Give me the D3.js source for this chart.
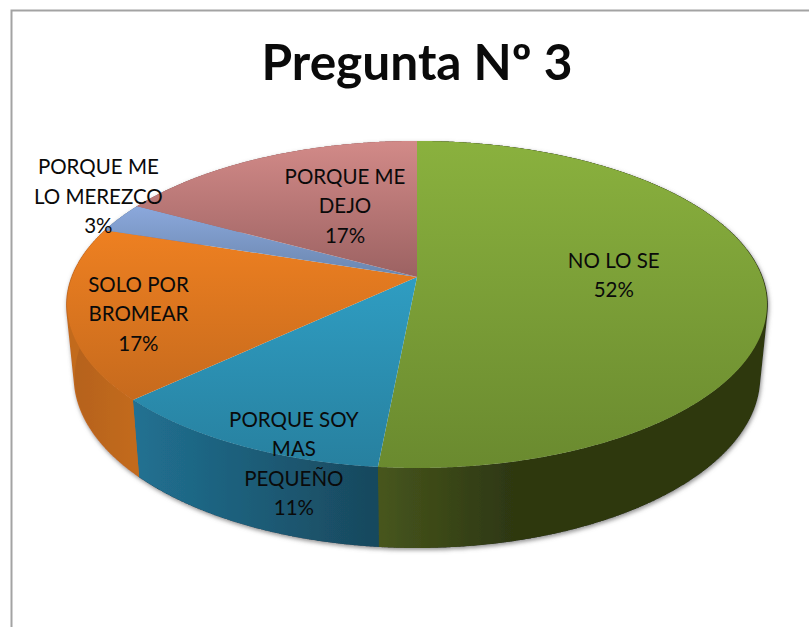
<!DOCTYPE html>
<html>
<head>
<meta charset="utf-8">
<script src="https://cdn.jsdelivr.net/npm/d3@7"></script>
<style>
  html, body { margin: 0; padding: 0; background: #fff; }
  svg { display: block; }
  text { font-family: Lato, "Open Sans", sans-serif; fill: #0a0a0a; }
</style>
</head>
<body>
<div id="my_dataviz"></div>
<script>
var title = "Pregunta Nº 3";
var categories = ["NO LO SE", "PORQUE SOY MAS PEQUEÑO", "SOLO POR BROMEAR", "PORQUE ME LO MEREZCO", "PORQUE ME DEJO"];
// shares, the printed labels round them
var shares = [51.5, 11.49, 17, 3, 17];
var labelLines = [
  ["NO LO SE", "52%"],
  ["PORQUE SOY", "MAS", "PEQUEÑO", "11%"],
  ["SOLO POR", "BROMEAR", "17%"],
  ["PORQUE ME", "LO MEREZCO", "3%"],
  ["PORQUE ME", "DEJO", "17%"]
];

// top face colours, back to front, and wall colours, left to right
var topColors = [["#8ab13e", "#6a8a2f"], ["#2f9dc2", "#27809f"], ["#ee8021", "#c66a1d"], ["#8ba8dc", "#6a86ae"], ["#d28a88", "#9c6262"]];
var wallColors = [["#47561d", "#2d3711"], ["#217192", "#18485d"], ["#b4611a", "#c26a1e"], ["#6a86ae", "#6a86ae"], ["#9c6262", "#9c6262"]];
// label offset from the point at 60% of the radius on each slice's middle
var labelNudge = [[-11, -6], [-23, 93], [-72, 16], [-136, -44], [25, 5]];

var width = 809, height = 627;
var cx = 417, cy = 277, R = 345, tilt = 158.9, persp = 0.168;
var wallHeight = 80, wallShrink = 0.978;

var svg = d3.select("#my_dataviz").append("svg")
  .attr("width", width)
  .attr("height", height);

var defs = svg.append("defs");
var shadow = defs.append("filter").attr("id", "shadow")
  .attr("x", "-5%").attr("y", "-5%").attr("width", "110%").attr("height", "115%");
shadow.append("feDropShadow")
  .attr("dx", 1).attr("dy", 2).attr("stdDeviation", 2)
  .attr("flood-color", "#777").attr("flood-opacity", 0.8);

// chart frame, runs off the right and bottom of the picture
svg.append("path")
  .attr("d", "M11.5," + height + "V10.5H" + width)
  .attr("fill", "none")
  .attr("stroke", "#a3a3a3")
  .attr("stroke-width", 2);

svg.append("text")
  .attr("x", 417)
  .attr("y", 80)
  .attr("text-anchor", "middle")
  .attr("font-size", 49.6)
  .attr("font-weight", 700)
  .text(title);

// disc seen in perspective, angle clockwise from the top
function project(a, r) {
  var u = r * Math.sin(a), v = -r * Math.cos(a), d = 1 - persp * v;
  return [cx + R * u / d, cy + tilt * v / d];
}
function projectBottom(a) {
  var p = project(a, 1);
  return [cx + (p[0] - cx) * wallShrink, p[1] + wallHeight - 0.045 * (468 - p[1])];
}
function sample(a0, a1) {
  var n = Math.max(2, Math.ceil(Math.abs(a1 - a0) / 0.005));
  return d3.range(n + 1).map(function(i) { return a0 + (a1 - a0) * i / n; });
}

var slices = d3.pie().sort(null).startAngle(0).endAngle(2 * Math.PI)(shares);
var line = d3.line();

function topPath(d) {
  var pts = sample(d.startAngle, d.endAngle).map(function(a) { return project(a, 1); });
  return line([[cx, cy]].concat(pts)) + "Z";
}
function wallPath(d) {
  var as = sample(d.startAngle, d.endAngle);
  var upper = as.map(function(a) { return project(a, 1); });
  var lower = as.slice().reverse().map(projectBottom);
  return line(upper.concat(lower)) + "Z";
}
// the straight edges top to bottom, these fill the silhouette at the far left and right
function wallEdges(d) {
  return sample(d.startAngle, d.endAngle).map(function(a) {
    return line([project(a, 1), projectBottom(a)]);
  }).join("");
}

slices.forEach(function(d, i) {
  var as = sample(d.startAngle, d.endAngle);
  var xs = as.map(function(a) { return project(a, 1)[0]; });
  var ys = as.map(function(a) { return project(a, 1)[1]; }).concat([cy]);

  var wg = defs.append("linearGradient").attr("id", "wall" + i)
    .attr("gradientUnits", "userSpaceOnUse")
    .attr("x1", d3.min(xs)).attr("x2", d3.max(xs)).attr("y1", 0).attr("y2", 0);
  wg.append("stop").attr("offset", 0).attr("stop-color", wallColors[i][0]);
  wg.append("stop").attr("offset", i == 0 ? 0.35 : 1).attr("stop-color", wallColors[i][1]);

  var tg = defs.append("linearGradient").attr("id", "top" + i)
    .attr("gradientUnits", "userSpaceOnUse")
    .attr("x1", 0).attr("x2", 0).attr("y1", d3.min(ys)).attr("y2", d3.max(ys));
  tg.append("stop").attr("offset", 0).attr("stop-color", topColors[i][0]);
  tg.append("stop").attr("offset", 1).attr("stop-color", topColors[i][1]);
});

// only the walls cast the soft shadow, the top face stays clean
var walls = svg.append("g").attr("filter", "url(#shadow)");

walls.append("g").selectAll("path")
  .data(slices)
  .enter()
  .append("path")
    .attr("d", wallEdges)
    .attr("fill", "none")
    .attr("stroke-width", 2)
    .attr("stroke", function(d, i) { return wallColors[i][1]; });

walls.append("g").selectAll("path")
  .data(slices)
  .enter()
  .append("path")
    .attr("d", wallPath)
    .attr("fill", function(d, i) { return "url(#wall" + i + ")"; });

svg.append("g").selectAll("path")
  .data(slices)
  .enter()
  .append("path")
    .attr("class", "slice")
    .attr("d", topPath)
    .attr("fill", function(d, i) { return "url(#top" + i + ")"; })
    .append("title")
    .text(function(d, i) { return categories[i]; });

var lineStep = 29.5;
var labels = svg.append("g").selectAll("text")
  .data(slices)
  .enter()
  .append("text")
    .attr("text-anchor", "middle")
    .attr("font-size", 20.5)
    .attr("transform", function(d, i) {
      var p = project((d.startAngle + d.endAngle) / 2, 0.6);
      return "translate(" + (p[0] + labelNudge[i][0]) + "," + (p[1] + labelNudge[i][1]) + ")";
    });

labels.selectAll("tspan")
  .data(function(d, i) { return labelLines[i].map(function(t, j) { return {t: t, j: j, n: labelLines[i].length}; }); })
  .enter()
  .append("tspan")
    .attr("x", 0)
    .attr("y", function(d) { return (d.j - (d.n - 1) / 2) * lineStep + 7; })
    .text(function(d) { return d.t; });
</script>
</body>
</html>
